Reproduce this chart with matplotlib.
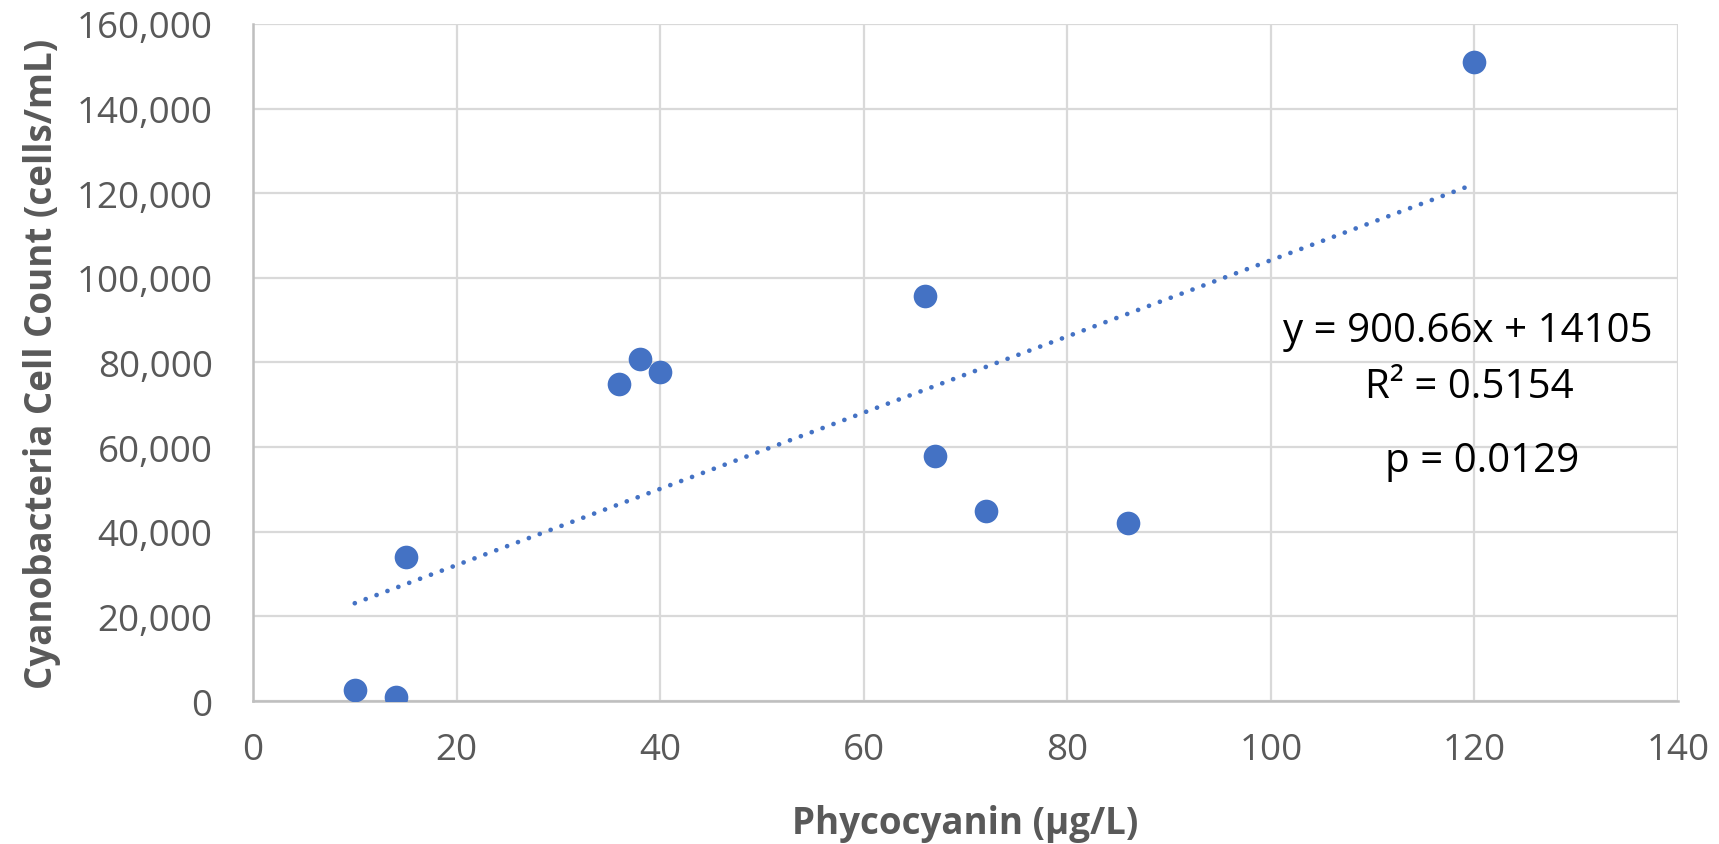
import matplotlib
matplotlib.use("Agg")
import matplotlib.pyplot as plt
from matplotlib.ticker import FuncFormatter, MultipleLocator

# Data
phycocyanin = [10, 14, 15, 36, 38, 40, 66, 67, 72, 86, 120]
cell_count = [2600, 900, 34100, 74900, 80900, 77700, 95800, 57800, 44800, 42000, 151000]
slope = 900.66
intercept = 14105
eq_text = "y = 900.66x + 14105"
r2_text = "R² = 0.5154"
p_text = "p = 0.0129"
x_label = "Phycocyanin (µg/L)"
y_label = "Cyanobacteria Cell Count (cells/mL)"

plt.rcParams['font.family'] = ['Open Sans', 'DejaVu Sans']

W, H = 1719, 845
fig = plt.figure(figsize=(W / 100, H / 100), dpi=100)
ax = fig.add_axes([253 / W, 1 - 702 / H, (1678 - 253) / W, (702 - 25) / H])

blue = "#4472C4"
grid_c = "#D9D9D9"
text_gray = "#595959"

ax.set_xlim(0, 140)
ax.set_ylim(0, 160000)
ax.xaxis.set_major_locator(MultipleLocator(20))
ax.yaxis.set_major_locator(MultipleLocator(20000))
ax.yaxis.set_major_formatter(FuncFormatter(lambda v, p: f"{int(v):,}"))
ax.grid(True, color=grid_c, linewidth=1.6, zorder=0)
ax.set_axisbelow(True)
for s in ["top", "right"]:
    ax.spines[s].set_visible(False)
for s in ["left", "bottom"]:
    ax.spines[s].set_color("#BFBFBF")
    ax.spines[s].set_linewidth(1.8)
ax.tick_params(length=0, labelsize=26.5, labelcolor=text_gray)
ax.tick_params(axis="y", pad=29)
ax.tick_params(axis="x", pad=22)

# trendline
xs = [min(phycocyanin), max(phycocyanin)]
ys = [slope * x + intercept for x in xs]
ax.plot(xs, ys, color=blue, linewidth=3.4, linestyle=(0, (0.01, 2.45)),
        dash_capstyle="round", zorder=2)

ax.scatter(phycocyanin, cell_count, s=290, color=blue, zorder=3, linewidths=0)

ax.set_xlabel(x_label, fontsize=26.5, fontweight="bold", color=text_gray, labelpad=26)
ax.set_ylabel(y_label, fontsize=26.5, fontweight="bold", color=text_gray, labelpad=11)

fig.text(1468 / W, 1 - 342 / H, eq_text, fontsize=29, ha="center", va="baseline", color="black")
fig.text(1469 / W, 1 - 398 / H, r2_text, fontsize=29, ha="center", va="baseline", color="black")
fig.text(1482 / W, 1 - 472 / H, p_text, fontsize=29, ha="center", va="baseline", color="black")

fig.savefig("out.png", dpi=100, facecolor="white")
